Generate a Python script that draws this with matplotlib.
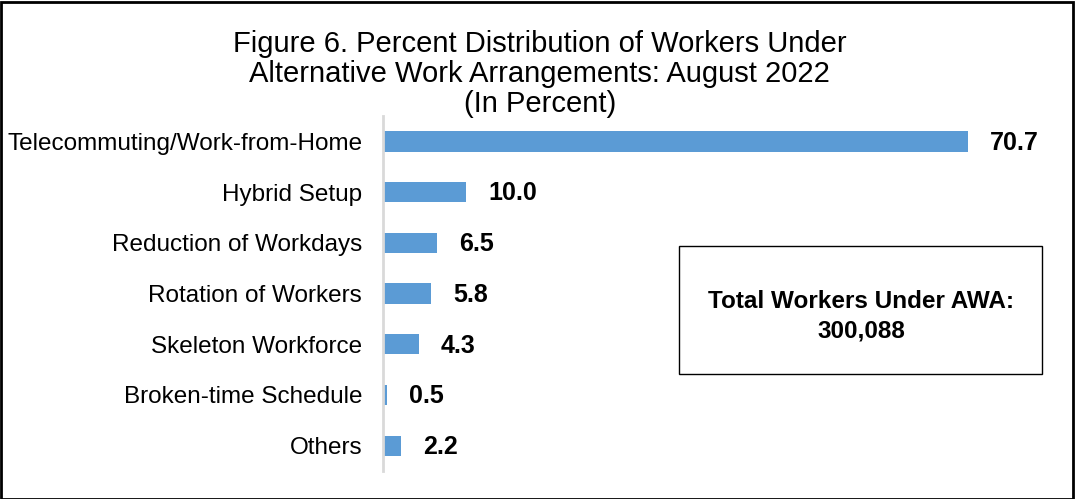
import matplotlib
matplotlib.use("Agg")
import matplotlib.pyplot as plt
from matplotlib.patches import Rectangle

plt.rcParams['font.family'] = ['Liberation Sans', 'DejaVu Sans']

categories = ["Telecommuting/Work-from-Home", "Hybrid Setup", "Reduction of Workdays",
              "Rotation of Workers", "Skeleton Workforce", "Broken-time Schedule", "Others"]
values = [70.7, 10.0, 6.5, 5.8, 4.3, 0.5, 2.2]
value_labels = ["70.7", "10.0", "6.5", "5.8", "4.3", "0.5", "2.2"]
title = "Figure 6. Percent Distribution of Workers Under\nAlternative Work Arrangements: August 2022\n(In Percent)"
box_text = "Total Workers Under AWA:\n300,088"

fig = plt.figure(figsize=(10.75, 4.99), dpi=100)
ax = fig.add_axes([383/1075, 1 - 471/499, (1060-383)/1075, 355/499])

pos = list(range(len(categories)))
ax.barh(pos, values, height=0.4, color="#5B9BD5")
ax.set_ylim(6.5, -0.5)
ax.set_xlim(0, (1060-383)/8.27)
ax.set_yticks(pos)
ax.set_yticklabels(categories, fontsize=17.5)
ax.tick_params(axis='y', length=0, pad=15)
ax.set_xticks([])
for s in ["top", "right", "bottom"]:
    ax.spines[s].set_visible(False)
ax.spines["left"].set_color("#D9D9D9")
ax.spines["left"].set_linewidth(2)

for p, v, lab in zip(pos, values, value_labels):
    ax.annotate(lab, (v, p), xytext=(16, -1), textcoords="offset points",
                va="center", ha="left", fontsize=18, fontweight="bold")

fig.text(0.502, 1 - 74/499, title, ha="center", va="center", fontsize=21, linespacing=1.1)

# info box
fig.patches.append(Rectangle((679/1075, 1 - 374/499), (1042-679)/1075, (374-246)/499,
                             transform=fig.transFigure, fill=False, edgecolor="black", linewidth=1))
fig.text(861/1075, 1 - 316/499, box_text, ha="center", va="center", fontsize=17.5,
         fontweight="bold", linespacing=1.35)

# outer border
fig.patches.append(Rectangle((1/1075, 0), 1072/1075, 497.5/499, transform=fig.transFigure,
                             fill=False, edgecolor="black", linewidth=2))

fig.savefig("out.png", dpi=100)
